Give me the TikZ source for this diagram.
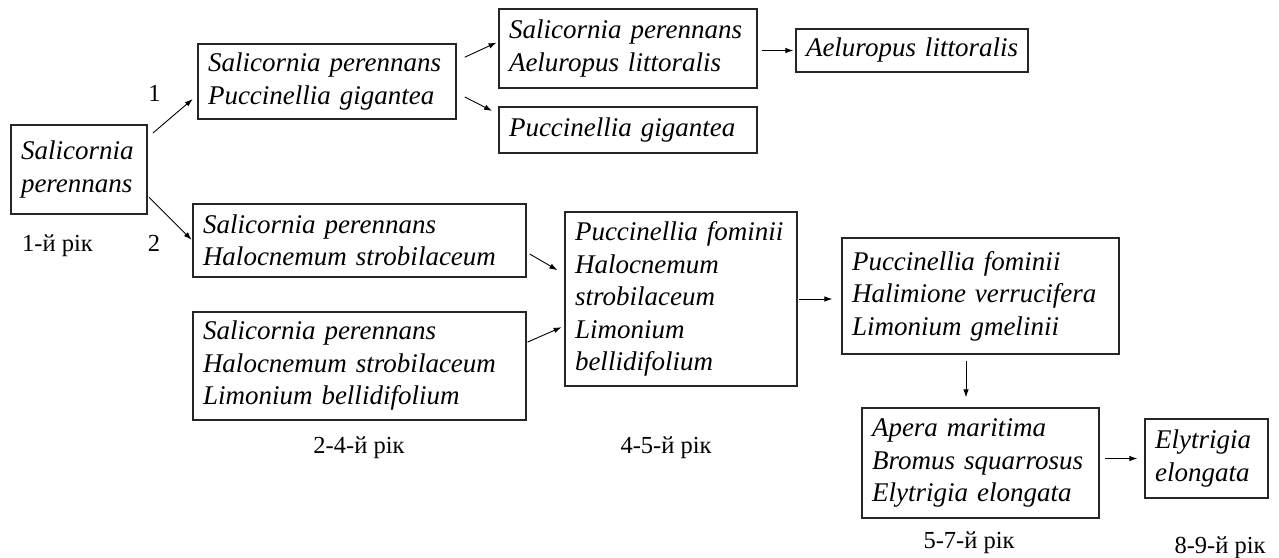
\documentclass[tikz,border=0pt]{standalone}
\usepackage{fontspec}
\setmainfont{Liberation Serif}
\usepackage{tikz}
\usetikzlibrary{arrows.meta}

\begin{document}
\begin{tikzpicture}[
    x=1pt, y=-1pt,
    box/.style={rectangle, draw=black!85, line width=1.3pt, align=left, inner xsep=10pt, inner ysep=0pt, font=\fontsize{27}{32.5}\selectfont\itshape},
    lbl/.style={anchor=base, inner sep=0pt, font=\fontsize{24.5}{29}\selectfont},
    arrow/.style={-{Latex[length=8pt,width=5.5pt]}, line width=0.9pt}
]
\useasboundingbox (0,0) rectangle (1279,557);

\node[box, text width=116pt, minimum height=89pt] (sal) at (79,169.5) {Salicornia\\perennans};
\node[box, text width=238pt, minimum height=75pt] (salpuc) at (327,81.5) {Salicornia perennans\\Puccinellia gigantea};
\node[box, text width=238pt, minimum height=79pt] (salael) at (628,48.5) {Salicornia perennans\\Aeluropus littoralis};
\node[box, text width=238pt, minimum height=46pt] (puc) at (628,130) {Puccinellia gigantea};
\node[box, text width=216pt, inner xsep=8pt, align=center, minimum height=43pt] (ael) at (912,50.5) {Aeluropus littoralis};
\node[box, text width=313pt, minimum height=73pt] (salhal) at (359.5,240.5) {Salicornia perennans\\Halocnemum strobilaceum};
\node[box, text width=313pt, minimum height=108pt] (salhallim) at (359.5,366) {Salicornia perennans\\Halocnemum strobilaceum\\Limonium bellidifolium};
\node[box, text width=212pt, minimum height=174pt] (pucfom) at (681,299) {Puccinellia fominii\\Halocnemum\\strobilaceum\\Limonium\\bellidifolium};
\node[box, text width=257pt, minimum height=116pt] (pucfomhal) at (980.5,296) {Puccinellia fominii\\Halimione verrucifera\\Limonium gmelinii};
\node[box, text width=217pt, minimum height=110pt] (apera) at (980.5,463) {Apera maritima\\Bromus squarrosus\\Elytrigia elongata};
\node[box, text width=103pt, minimum height=79pt] (elyt) at (1206.5,458.5) {Elytrigia\\elongata};

\node[lbl] (one) at (154.5,101) {1};
\node[lbl] (two) at (154,251) {2};
\node[lbl] (year1) at (57.5,251) {1-й рік};
\node[lbl] (year24) at (359,453) {2-4-й рік};
\node[lbl] (year45) at (666,453) {4-5-й рік};
\node[lbl] (year57) at (969,548) {5-7-й рік};
\node[lbl] (year89) at (1220,553) {8-9-й рік};

\draw[arrow, shorten <=7pt, shorten >=6pt] (sal.25) -- (salpuc.186);
\draw[arrow, shorten <=2pt, shorten >=1pt] (sal.-21) -- (salhal.west);
\draw[arrow, shorten <=9pt, shorten >=2pt] (salpuc.9) -- (salael.177);
\draw[arrow, shorten <=9pt, shorten >=7pt] (salpuc.-5) -- (puc.173);
\draw[arrow, shorten <=4pt, shorten >=2pt] (salael.east |- ael.west) -- (ael.west);
\draw[arrow, shorten <=3.5pt, shorten >=8pt] (salhal.-4) -- (pucfom.168);
\draw[arrow, shorten <=1pt, shorten >=3pt] (salhallim.8) -- (pucfom.193);
\draw[arrow, shorten <=1pt, shorten >=9pt] (pucfom.east) -- (pucfom.east -| pucfomhal.west);
\draw[arrow, shorten <=6pt, shorten >=10pt] ([xshift=-14.5pt]pucfomhal.south) -- ([xshift=-14.5pt]apera.north);
\draw[arrow, shorten <=5pt, shorten >=7pt] (apera.east |- elyt.west) -- (elyt.west);
\end{tikzpicture}
\end{document}
